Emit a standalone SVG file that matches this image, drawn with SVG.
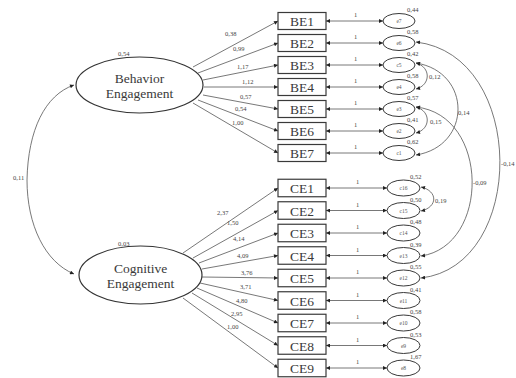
<svg xmlns="http://www.w3.org/2000/svg" width="516" height="378" viewBox="0 0 516 378" font-family="'Liberation Serif', 'Times New Roman', 'DejaVu Serif', serif">
<style>
.box{fill:#fff;stroke:#3a3a3a;stroke-width:1.2}
.lat{fill:#fff;stroke:#333;stroke-width:1.2}
.err{fill:#fff;stroke:#3a3a3a;stroke-width:1}
.ln{fill:none;stroke:#555;stroke-width:0.8}
text{font-family:'Liberation Serif', 'Times New Roman', 'DejaVu Serif', serif}
.bt{font-size:13.5px;fill:#3a3a3a;text-anchor:middle}
.et{font-size:5.5px;fill:#555;text-anchor:middle}
.sm{font-size:6.5px;fill:#444}
</style>
<defs>
<marker id="ah" viewBox="0 0 10 10" refX="10" refY="5" markerWidth="5" markerHeight="4" markerUnits="userSpaceOnUse" orient="auto-start-reverse">
<path d="M0,0 L10,5 L0,10 z" fill="#222"/>
</marker>
</defs>
<rect width="516" height="378" fill="#fff"/>
<g id="connectors">
<path class="ln" d="M74,85 C45,95 28,130 27,180 C27,225 45,262 74,274" marker-start="url(#ah)" marker-end="url(#ah)"/>
<g marker-end="url(#ah)">
<path class="ln" d="M193,67 L278,21"/>
<path class="ln" d="M198,73 L278,43"/>
<path class="ln" d="M203,80 L278,65"/>
<path class="ln" d="M204,87 L278,87"/>
<path class="ln" d="M203,95 L278,109"/>
<path class="ln" d="M198,100 L278,131"/>
<path class="ln" d="M193,103 L278,153"/>
<path class="ln" d="M183,253 L278,188"/>
<path class="ln" d="M193,258 L278,210.5"/>
<path class="ln" d="M199,263 L278,233"/>
<path class="ln" d="M202,269 L278,255.5"/>
<path class="ln" d="M202,277 L278,278"/>
<path class="ln" d="M200,283 L278,300.5"/>
<path class="ln" d="M197,288 L278,323"/>
<path class="ln" d="M192,293 L278,345.5"/>
<path class="ln" d="M183,298 L278,368"/>
</g>
<g marker-start="url(#ah)" marker-end="url(#ah)">
<path class="ln" d="M326,21 L383,21"/>
<path class="ln" d="M326,43 L383,43"/>
<path class="ln" d="M326,65 L383,65"/>
<path class="ln" d="M326,87 L383,87"/>
<path class="ln" d="M326,109 L383,109"/>
<path class="ln" d="M326,131 L383,131"/>
<path class="ln" d="M326,153 L383,153"/>
<path class="ln" d="M326,188 L387,188"/>
<path class="ln" d="M326,210.5 L387,210.5"/>
<path class="ln" d="M326,233 L387,233"/>
<path class="ln" d="M326,255.5 L387,255.5"/>
<path class="ln" d="M326,278 L387,278"/>
<path class="ln" d="M326,300.5 L387,300.5"/>
<path class="ln" d="M326,323 L387,323"/>
<path class="ln" d="M326,345.5 L387,345.5"/>
<path class="ln" d="M326,368 L387,368"/>
<path class="ln" d="M416,63 C431,67 431,85 416,89"/>
<path class="ln" d="M416,107 C431,111 431,129 416,133"/>
<path class="ln" d="M416,63 C472,72 472,146 416,155"/>
<path class="ln" d="M416,107 C490,115 490,246 421,256"/>
<path class="ln" d="M416,42 C527,55 527,266 421,278"/>
<path class="ln" d="M421,187 C438,191 438,207 421,211"/>
</g>
<g class="sm">
<text x="13" y="180">0,11</text>
<text x="225" y="36">0,38</text>
<text x="233" y="51">0,99</text>
<text x="237" y="69">1,17</text>
<text x="242" y="84">1,12</text>
<text x="240" y="99">0,57</text>
<text x="235" y="111">0,54</text>
<text x="232" y="125">1,00</text>
<text x="217" y="215">2,37</text>
<text x="227" y="225">1,50</text>
<text x="233" y="241">4,14</text>
<text x="237" y="258">4,09</text>
<text x="241" y="275">3,76</text>
<text x="240" y="289">3,71</text>
<text x="236" y="303">4,80</text>
<text x="231" y="316">2,95</text>
<text x="227" y="329">1,00</text>
<text x="354" y="17">1</text>
<text x="354" y="39">1</text>
<text x="354" y="61">1</text>
<text x="354" y="83">1</text>
<text x="354" y="105">1</text>
<text x="354" y="127">1</text>
<text x="354" y="149">1</text>
<text x="356" y="184">1</text>
<text x="356" y="206.5">1</text>
<text x="356" y="229">1</text>
<text x="356" y="251.5">1</text>
<text x="356" y="274">1</text>
<text x="356" y="296.5">1</text>
<text x="356" y="319">1</text>
<text x="356" y="341.5">1</text>
<text x="356" y="364">1</text>
<text x="429" y="79">0,12</text>
<text x="430" y="124">0,15</text>
<text x="458" y="115">0,14</text>
<text x="473" y="185">-0,09</text>
<text x="501" y="166">-0,14</text>
<text x="435" y="203">0,19</text>
</g>
</g>
<g id="BehaviorEngagement">
<ellipse class="lat" cx="139.5" cy="85" rx="63.5" ry="28"/>
<text class="bt" x="139.5" y="83">Behavior</text>
<text class="bt" x="139.5" y="98">Engagement</text>
<text class="sm" x="118" y="56">0,54</text>
</g>
<g id="CognitiveEngagement">
<ellipse class="lat" cx="140.5" cy="275" rx="61.5" ry="29"/>
<text class="bt" x="140.5" y="273">Cognitive</text>
<text class="bt" x="140.5" y="288">Engagement</text>
<text class="sm" x="118" y="246">0,03</text>
</g>
<g id="BE1"><rect class="box" x="278" y="12.5" width="48" height="17"/><text class="bt" x="302" y="26">BE1</text></g>
<g id="BE2"><rect class="box" x="278" y="34.5" width="48" height="17"/><text class="bt" x="302" y="48">BE2</text></g>
<g id="BE3"><rect class="box" x="278" y="56.5" width="48" height="17"/><text class="bt" x="302" y="70">BE3</text></g>
<g id="BE4"><rect class="box" x="278" y="78.5" width="48" height="17"/><text class="bt" x="302" y="92">BE4</text></g>
<g id="BE5"><rect class="box" x="278" y="100.5" width="48" height="17"/><text class="bt" x="302" y="114">BE5</text></g>
<g id="BE6"><rect class="box" x="278" y="122.5" width="48" height="17"/><text class="bt" x="302" y="136">BE6</text></g>
<g id="BE7"><rect class="box" x="278" y="144.5" width="48" height="17"/><text class="bt" x="302" y="158">BE7</text></g>
<g id="CE1"><rect class="box" x="278" y="179.25" width="48" height="17.5"/><text class="bt" x="302" y="193">CE1</text></g>
<g id="CE2"><rect class="box" x="278" y="201.75" width="48" height="17.5"/><text class="bt" x="302" y="215.5">CE2</text></g>
<g id="CE3"><rect class="box" x="278" y="224.25" width="48" height="17.5"/><text class="bt" x="302" y="238">CE3</text></g>
<g id="CE4"><rect class="box" x="278" y="246.75" width="48" height="17.5"/><text class="bt" x="302" y="260.5">CE4</text></g>
<g id="CE5"><rect class="box" x="278" y="269.25" width="48" height="17.5"/><text class="bt" x="302" y="283">CE5</text></g>
<g id="CE6"><rect class="box" x="278" y="291.75" width="48" height="17.5"/><text class="bt" x="302" y="305.5">CE6</text></g>
<g id="CE7"><rect class="box" x="278" y="314.25" width="48" height="17.5"/><text class="bt" x="302" y="328">CE7</text></g>
<g id="CE8"><rect class="box" x="278" y="336.75" width="48" height="17.5"/><text class="bt" x="302" y="350.5">CE8</text></g>
<g id="CE9"><rect class="box" x="278" y="359.25" width="48" height="17.5"/><text class="bt" x="302" y="373">CE9</text></g>
<g id="e7"><ellipse class="err" cx="399" cy="21" rx="16" ry="7.5"/><text class="et" x="399" y="23">e7</text><text class="sm" x="407" y="12">0,44</text></g>
<g id="e6"><ellipse class="err" cx="399" cy="43" rx="16" ry="7.5"/><text class="et" x="399" y="45">e6</text><text class="sm" x="407" y="34">0,58</text></g>
<g id="c5"><ellipse class="err" cx="399" cy="65" rx="16" ry="7.5"/><text class="et" x="399" y="67">c5</text><text class="sm" x="407" y="56">0,42</text></g>
<g id="e4"><ellipse class="err" cx="399" cy="87" rx="16" ry="7.5"/><text class="et" x="399" y="89">e4</text><text class="sm" x="407" y="78">0,58</text></g>
<g id="e3"><ellipse class="err" cx="399" cy="109" rx="16" ry="7.5"/><text class="et" x="399" y="111">e3</text><text class="sm" x="407" y="100">0,57</text></g>
<g id="e2"><ellipse class="err" cx="399" cy="131" rx="16" ry="7.5"/><text class="et" x="399" y="133">e2</text><text class="sm" x="407" y="122">0,41</text></g>
<g id="c1"><ellipse class="err" cx="399" cy="153" rx="16" ry="7.5"/><text class="et" x="399" y="155">c1</text><text class="sm" x="407" y="144">0,62</text></g>
<g id="c16"><ellipse class="err" cx="403.5" cy="188" rx="16.5" ry="8"/><text class="et" x="403.5" y="190">c16</text><text class="sm" x="410" y="179">0,52</text></g>
<g id="c15"><ellipse class="err" cx="403.5" cy="210.5" rx="16.5" ry="8"/><text class="et" x="403.5" y="212.5">c15</text><text class="sm" x="410" y="201.5">0,50</text></g>
<g id="c14"><ellipse class="err" cx="403.5" cy="233" rx="16.5" ry="8"/><text class="et" x="403.5" y="235">c14</text><text class="sm" x="410" y="224">0,48</text></g>
<g id="e13"><ellipse class="err" cx="403.5" cy="255.5" rx="16.5" ry="8"/><text class="et" x="403.5" y="257.5">e13</text><text class="sm" x="410" y="246.5">0,39</text></g>
<g id="e12"><ellipse class="err" cx="403.5" cy="278" rx="16.5" ry="8"/><text class="et" x="403.5" y="280">e12</text><text class="sm" x="410" y="269">0,55</text></g>
<g id="e11"><ellipse class="err" cx="403.5" cy="300.5" rx="16.5" ry="8"/><text class="et" x="403.5" y="302.5">e11</text><text class="sm" x="410" y="291.5">0,41</text></g>
<g id="e10"><ellipse class="err" cx="403.5" cy="323" rx="16.5" ry="8"/><text class="et" x="403.5" y="325">e10</text><text class="sm" x="410" y="314">0,58</text></g>
<g id="e9"><ellipse class="err" cx="403.5" cy="345.5" rx="16.5" ry="8"/><text class="et" x="403.5" y="347.5">e9</text><text class="sm" x="410" y="336.5">0,53</text></g>
<g id="e8"><ellipse class="err" cx="403.5" cy="368" rx="16.5" ry="8"/><text class="et" x="403.5" y="370">e8</text><text class="sm" x="410" y="359">1,67</text></g>
</svg>
